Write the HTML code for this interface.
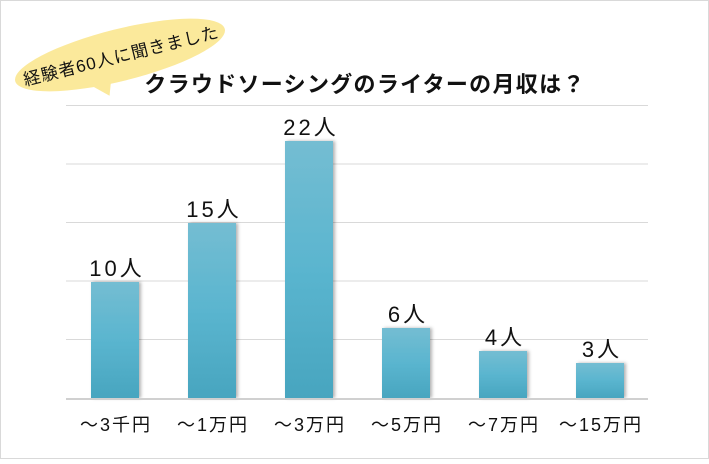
<!DOCTYPE html>
<html><head><meta charset="utf-8"><style>
body{margin:0;width:709px;height:459px;overflow:hidden;background:#fff}
text{font-family:"Liberation Sans","Noto Sans CJK JP",sans-serif}
</style></head><body>
<svg width="709" height="459" viewBox="0 0 709 459">
<defs>
<linearGradient id="g" x1="0" y1="0" x2="0" y2="1"><stop offset="0" stop-color="#74bdd2"/><stop offset="0.5" stop-color="#5ab5cf"/><stop offset="1" stop-color="#48a5bf"/></linearGradient>
<filter id="s" x="-20%" y="-10%" width="150%" height="120%"><feDropShadow dx="2" dy="0" stdDeviation="1.5" flood-color="#000" flood-opacity="0.3"/></filter>
</defs>
<rect x="0.5" y="0.5" width="708" height="458" fill="#fff" stroke="#d9d9d9"/>
<g stroke="#d9d9d9" stroke-width="1">
<line x1="66" x2="648" y1="105.5" y2="105.5"/>
<line x1="66" x2="648" y1="164" y2="164"/>
<line x1="66" x2="648" y1="222.5" y2="222.5"/>
<line x1="66" x2="648" y1="281" y2="281"/>
<line x1="66" x2="648" y1="339.5" y2="339.5"/>
</g>
<g fill="url(#g)" filter="url(#s)">
<rect x="91" y="282" width="48" height="116"/>
<rect x="188" y="223" width="48" height="175"/>
<rect x="285" y="141" width="48" height="257"/>
<rect x="382" y="328" width="48" height="70"/>
<rect x="479" y="351" width="48" height="47"/>
<rect x="576" y="363" width="48" height="35"/>
</g>
<line x1="66" x2="648" y1="399" y2="399" stroke="#d0d0d0" stroke-width="2"/>
<g font-size="22" text-anchor="middle" fill="#111" letter-spacing="3">
<text x="117" y="276">10人</text>
<text x="214" y="217">15人</text>
<text x="311" y="135">22人</text>
<text x="408" y="322">6人</text>
<text x="505" y="345">4人</text>
<text x="602" y="357">3人</text>
</g>
<g font-size="18" text-anchor="middle" fill="#111" letter-spacing="2">
<text x="116" y="431">～3千円</text>
<text x="213" y="431">～1万円</text>
<text x="310" y="431">～3万円</text>
<text x="407" y="431">～5万円</text>
<text x="504" y="431">～7万円</text>
<text x="601" y="431">～15万円</text>
</g>
<text x="365" y="92" font-size="22" font-weight="bold" text-anchor="middle" fill="#111" letter-spacing="1.3">クラウドソーシングのライターの月収は？</text>
<g transform="rotate(-14 120 55)">
<ellipse cx="120" cy="55" rx="108" ry="26" fill="#fbe99b"/>
<path d="M85 78 L100 92 L105 78 Z" fill="#fbe99b"/>
<text x="121" y="62" font-size="17" text-anchor="middle" fill="#111" letter-spacing="1">経験者60人に聞きました</text>
</g>
</svg>
</body></html>
